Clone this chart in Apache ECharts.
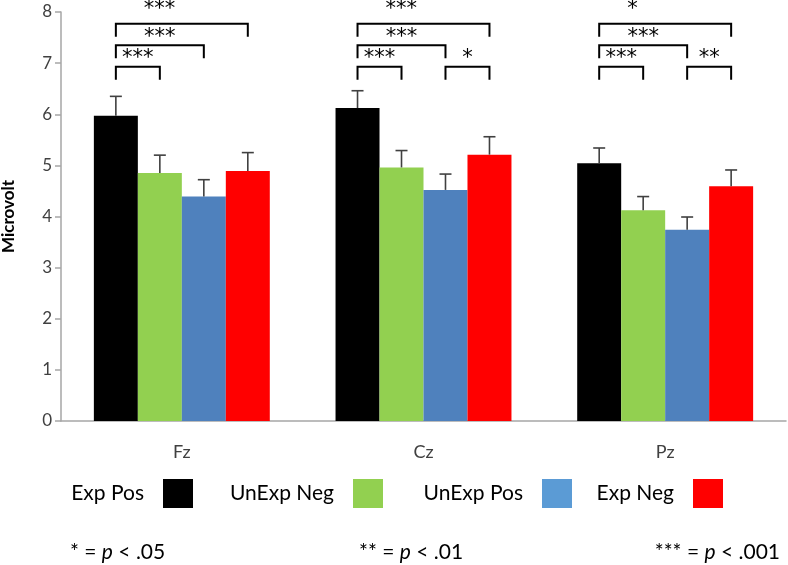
<!DOCTYPE html>
<html><head><meta charset="utf-8">
<script src="https://cdn.jsdelivr.net/npm/echarts@6/dist/echarts.min.js"></script>
<style>html,body{margin:0;padding:0;background:#fff}#c{width:788px;height:565px}</style>
</head><body><div id="c"></div>
<script>
const categories = ['Fz', 'Cz', 'Pz'];
const seriesNames = ['Exp Pos', 'UnExp Neg', 'UnExp Pos', 'Exp Neg'];
const expPos   = [5.97, 6.12, 5.04];
const unexpNeg = [4.85, 4.96, 4.12];
const unexpPos = [4.39, 4.52, 3.74];
const expNeg   = [4.89, 5.21, 4.59];
const expPosErr   = [0.38, 0.34, 0.30];
const unexpNegErr = [0.35, 0.33, 0.27];
const unexpPosErr = [0.33, 0.31, 0.25];
const expNegErr   = [0.36, 0.35, 0.32];
// [category index, first bar, second bar, significance]
const comparisons = [
  [0, 0, 1, '***'], [0, 0, 2, '***'], [0, 0, 3, '***'],
  [1, 0, 1, '***'], [1, 0, 2, '***'], [1, 0, 3, '***'], [1, 2, 3, '*'],
  [2, 0, 1, '***'], [2, 0, 2, '***'], [2, 0, 3, '*'], [2, 2, 3, '**']
];
const footnotes = ['*', '**', '***'];
const footnoteP = ['.05', '.01', '.001'];

const values = [expPos, unexpNeg, unexpPos, expNeg];
const errs = [expPosErr, unexpNegErr, unexpPosErr, expNegErr];
const barColors = ['#000000', '#92d050', '#4f81bd', '#ff0000'];
const legendColors = ['#000000', '#92d050', '#5b9bd5', '#ff0000'];
const BARW = 0.182;
const FONT = 'Lato';
const STARFONT = '"DejaVu Sans"';

const chart = echarts.init(document.getElementById('c'), null, {renderer: 'canvas'});

function barX(api, cat, i) {
  const c = api.coord([cat, 0]);
  const band = api.size([1, 0])[0];
  return c[0] + (i - 1.5) * band * BARW;
}

const errData = [];
values.forEach((arr, s) => arr.forEach((v, k) => errData.push([k, s, v, v + errs[s][k]])));

const barSeries = seriesNames.map((n, s) => ({
  name: n, type: 'bar', data: values[s], barWidth: (BARW * 100) + '%', barGap: '0%',
  itemStyle: {color: barColors[s]}, emphasis: {disabled: true}
}));

const errSeries = {
  type: 'custom', data: errData, z: 5, silent: true, clip: false,
  encode: {x: 0, y: [2, 3]},
  renderItem: (params, api) => {
    const cat = api.value(0), s = api.value(1);
    const x = barX(api, cat, s);
    const y0 = api.coord([cat, api.value(2)])[1];
    const y1 = api.coord([cat, api.value(3)])[1];
    const st = {stroke: '#404040', lineWidth: 1.6};
    return {type: 'group', children: [
      {type: 'line', shape: {x1: x, y1: y0, x2: x, y2: y1}, style: st},
      {type: 'line', shape: {x1: x - 6, y1: y1, x2: x + 6, y2: y1}, style: st}
    ]};
  }
};

const bracketSeries = {
  type: 'custom', data: comparisons.map(c => [c[0], c[1], c[2]]), z: 6, silent: true, clip: false,
  encode: {x: 0, y: 1},
  renderItem: (params, api) => {
    const cmp = comparisons[params.dataIndex];
    const cat = cmp[0], a = cmp[1], b = cmp[2];
    const level = b - a;
    const ly = api.coord([cat, 6.93 + (level - 1) * 0.42])[1];
    const legY = ly + 13;
    const xa = barX(api, cat, a), xb = barX(api, cat, b);
    const st = {stroke: '#000', lineWidth: 2, fill: null};
    let tx, align, ty;
    if (level === 3) {
      tx = (barX(api, cat, 0) + barX(api, cat, 2)) / 2 - 16; align = 'left'; ty = ly - 14;
    } else {
      tx = (xa + xb) / 2; align = 'center'; ty = ly - 8;
    }
    return {type: 'group', children: [
      {type: 'polyline', shape: {points: [[xa, legY], [xa, ly], [xb, ly], [xb, legY]]}, style: st},
      {type: 'text', x: tx, y: ty, style: {text: cmp[3], fill: '#000', font: '21px ' + STARFONT,
        textAlign: align, textVerticalAlign: 'middle'}}
    ]};
  }
};

const legendRights = [595, 405, 216, 65];
const legends = seriesNames.map((n, s) => ({
  data: [{name: n, itemStyle: {color: legendColors[s]}}],
  right: legendRights[s], top: 479, padding: 0, align: 'right',
  itemWidth: 30, itemHeight: 29, icon: 'rect', selectedMode: false,
  textStyle: {fontFamily: FONT, fontSize: 21, color: '#000', padding: [0, 14, 0, 0]}
}));

const footLefts = [{left: 70}, {left: 359}, {right: 8}];
const graphics = footnotes.map((f, i) => Object.assign({
  type: 'text', top: 542,
  style: {text: f + ' = {i|p} < ' + footnoteP[i], font: '21px ' + FONT, fill: '#000',
    rich: {i: {fontStyle: 'italic', fontFamily: FONT, fontSize: 21, fill: '#000'}}}
}, footLefts[i]));

chart.setOption({
  animation: false,
  grid: {left: 61, right: 2, top: 12, bottom: 144, outerBoundsMode: 'none', containLabel: false},
  legend: legends,
  graphic: graphics,
  xAxis: {
    type: 'category', data: categories,
    axisLine: {lineStyle: {color: '#a6a6a6', width: 1.5}},
    axisTick: {length: 7, lineStyle: {color: '#a6a6a6', width: 1.5}},
    axisLabel: {fontFamily: FONT, fontSize: 18, color: '#404040', margin: 22}
  },
  yAxis: {
    type: 'value', min: 0, max: 8, interval: 1,
    name: 'Microvolt', nameLocation: 'middle', nameGap: 44, nameRotate: 90,
    nameTextStyle: {fontFamily: FONT, fontSize: 17, fontWeight: 'bold', color: '#000'},
    splitLine: {show: false},
    axisLine: {show: true, lineStyle: {color: '#a6a6a6', width: 1.5}},
    axisTick: {show: true, length: 6, lineStyle: {color: '#a6a6a6', width: 1.5}},
    axisLabel: {fontFamily: FONT, fontSize: 17, color: '#404040', margin: 9}
  },
  series: barSeries.concat([errSeries, bracketSeries])
});
</script></body></html>
